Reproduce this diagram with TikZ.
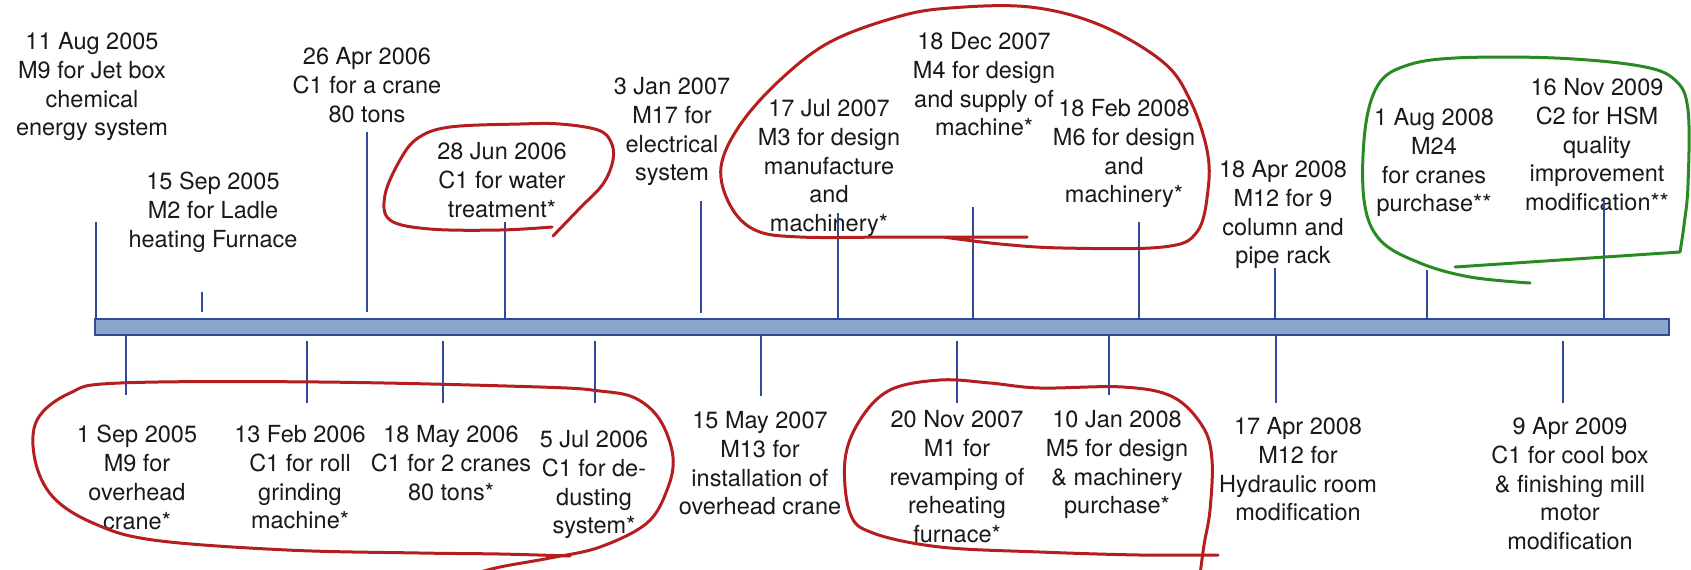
\documentclass[tikz,border=0pt]{standalone}
\usepackage{fontspec}
\setmainfont{TeX Gyre Heros}
\usepackage{xcolor}
\definecolor{azul}{HTML}{2F4A9A}
\definecolor{barra}{HTML}{8AA5CC}
\definecolor{rojo}{HTML}{B41E1E}
\definecolor{verde}{HTML}{2A8A22}

\begin{document}
\begin{tikzpicture}[x=0.5pt, y=-0.5pt, font=\fontsize{11.75}{14.4}\selectfont,
      lbl/.style={anchor=north, align=center, inner sep=0pt, text=black!90},
      tick/.style={draw=azul, line width=0.7pt},
      ring/.style={draw=rojo, line width=1.5pt, line cap=round, line join=round},
      greenring/.style={draw=verde, line width=1.5pt, line cap=round, line join=round}]
    \useasboundingbox (0,0) rectangle (1691,569);
    % time bar
    \node[draw=azul, fill=barra, line width=0.8pt, minimum width=787pt, minimum height=8pt,
          inner sep=0pt] (bar) at (882,327) {};
    % events above the bar
    \node[lbl] (m9jet) at (92,32) {11 Aug 2005\\M9 for Jet box\\chemical\\energy system};
    \node[lbl] (m2ladle) at (213,172) {15 Sep 2005\\M2 for Ladle\\heating Furnace};
    \node[lbl] (c1crane) at (367,47) {26 Apr 2006\\C1 for a crane\\80 tons};
    \node[lbl] (c1water) at (502,142) {28 Jun 2006\\C1 for water\\treatment*};
    \node[lbl] (m17) at (672,77) {3 Jan 2007\\M17 for\\electrical\\system};
    \node[lbl] (m3) at (829,99) {17 Jul 2007\\M3 for design\\manufacture\\and\\machinery*};
    \node[lbl] (m4) at (984,32) {18 Dec 2007\\M4 for design\\and supply of\\machine*};
    \node[lbl] (m6) at (1124,99) {18 Feb 2008\\M6 for design\\and\\machinery*};
    \node[lbl] (m12rack) at (1283,160) {18 Apr 2008\\M12 for 9\\column and\\pipe rack};
    \node[lbl] (m24) at (1434,108) {1 Aug 2008\\M24\\for cranes\\purchase**};
    \node[lbl] (c2hsm) at (1597,78) {16 Nov 2009\\C2 for HSM\\quality\\improvement\\modification**};
    % events below the bar
    \node[lbl] (m9crane) at (137,425) {1 Sep 2005\\M9 for\\overhead\\crane*};
    \node[lbl] (c1roll) at (300,425) {13 Feb 2006\\C1 for roll\\grinding\\machine*};
    \node[lbl] (c1cranes) at (451,425) {18 May 2006\\C1 for 2 cranes\\80 tons*};
    \node[lbl] (c1dust) at (594,430) {5 Jul 2006\\C1 for de-\\dusting\\system*};
    \node[lbl] (m13) at (760,411) {15 May 2007\\M13 for\\installation of\\overhead crane};
    \node[lbl] (m1) at (957,410) {20 Nov 2007\\M1 for\\revamping of\\reheating\\furnace*};
    \node[lbl] (m5) at (1117,410) {10 Jan 2008\\M5 for design\\\& machinery\\purchase*};
    \node[lbl] (m12hyd) at (1298,417) {17 Apr 2008\\M12 for\\Hydraulic room\\modification};
    \node[lbl] (c1cool) at (1570,417) {9 Apr 2009\\C1 for cool box\\\& finishing mill\\motor\\modification};
    % tick ends
    \coordinate (k1) at (96,222);   \coordinate (k2) at (202,292);  \coordinate (k3) at (367,132);
    \coordinate (k4) at (505,222);  \coordinate (k5) at (701,201);  \coordinate (k6) at (838,213);
    \coordinate (k7) at (973,207);  \coordinate (k8) at (1139,222); \coordinate (k9) at (1275,268);
    \coordinate (k10) at (1427,270); \coordinate (k11) at (1604,200);
    \coordinate (j1) at (126,395);  \coordinate (j2) at (307,403);  \coordinate (j3) at (443,403);
    \coordinate (j4) at (595,403);  \coordinate (j5) at (761,396);  \coordinate (j6) at (957,403);
    \coordinate (j7) at (1109,395); \coordinate (j8) at (1276,403); \coordinate (j9) at (1563,403);
    \draw[tick] (k1) -- (k1 |- bar.north);
    \draw[tick, shorten >=3pt] (k2) -- (k2 |- bar.north);
    \draw[tick, shorten >=3pt] (k3) -- (k3 |- bar.north);
    \draw[tick] (k4) -- (k4 |- bar.north);
    \draw[tick, shorten >=2.5pt] (k5) -- (k5 |- bar.north);
    \draw[tick] (k6) -- (k6 |- bar.north); \draw[tick] (k7) -- (k7 |- bar.north);
    \draw[tick] (k8) -- (k8 |- bar.north); \draw[tick] (k9) -- (k9 |- bar.north);
    \draw[tick] (k10) -- (k10 |- bar.north); \draw[tick] (k11) -- (k11 |- bar.north);
    \draw[tick] (bar.south -| j1) -- (j1);
    \draw[tick, shorten <=2.5pt] (bar.south -| j2) -- (j2);
    \draw[tick, shorten <=2.5pt] (bar.south -| j3) -- (j3);
    \draw[tick, shorten <=2.5pt] (bar.south -| j4) -- (j4);
    \draw[tick] (bar.south -| j5) -- (j5);
    \draw[tick, shorten <=2.5pt] (bar.south -| j6) -- (j6);
    \draw[tick] (bar.south -| j7) -- (j7); \draw[tick] (bar.south -| j8) -- (j8);
    \draw[tick, shorten <=2.5pt] (bar.south -| j9) -- (j9);
    % hand drawn marks
    \draw[ring] plot[smooth, tension=0.6] coordinates {(553,236) (580,208) (603,184) (613,160)
      (611,142) (598,130) (560,124) (520,124) (450,127) (418,138) (400,160) (385,195) (390,220)
      (430,229) (500,230) (552,227)};
    \draw[ring] plot[smooth, tension=0.6] coordinates {(943,237) (1000,244) (1063,248) (1163,247)
      (1197,232) (1208,190) (1207,150) (1190,100) (1163,62) (1100,25) (1030,7) (950,8) (897,17)
      (830,42) (780,80) (740,125) (721,167) (730,205) (755,230) (800,237) (900,237) (1027,237)};
    \draw[ring] plot[smooth, tension=0.6] coordinates {(570,556) (500,554) (420,553) (287,550)
      (153,540) (93,523) (53,497) (35,460) (37,420) (70,393) (120,383) (320,382) (540,387)
      (600,391) (635,398) (660,420) (673,457) (667,490) (647,523) (600,547) (550,558) (500,567)
      (470,575)};
    \draw[ring] plot[smooth, tension=0.6] coordinates {(1218,555) (1140,555) (1040,552) (940,547)
      (873,533) (850,513) (845,460) (860,420) (890,390) (940,380) (990,383) (1040,388) (1123,387)
      (1173,397) (1203,427) (1212,460) (1210,510) (1204,545) (1200,575)};
    \draw[greenring] (1455,267) -- (1680,252) plot[smooth, tension=0.6] coordinates {(1680,252)
      (1684,225) (1688,185) (1688,110) (1675,80) (1640,66) (1555,58) (1455,58) (1405,66) (1378,85)
      (1365,130) (1364,200) (1380,240) (1420,263) (1470,277) (1530,283)};
\end{tikzpicture}
\end{document}
